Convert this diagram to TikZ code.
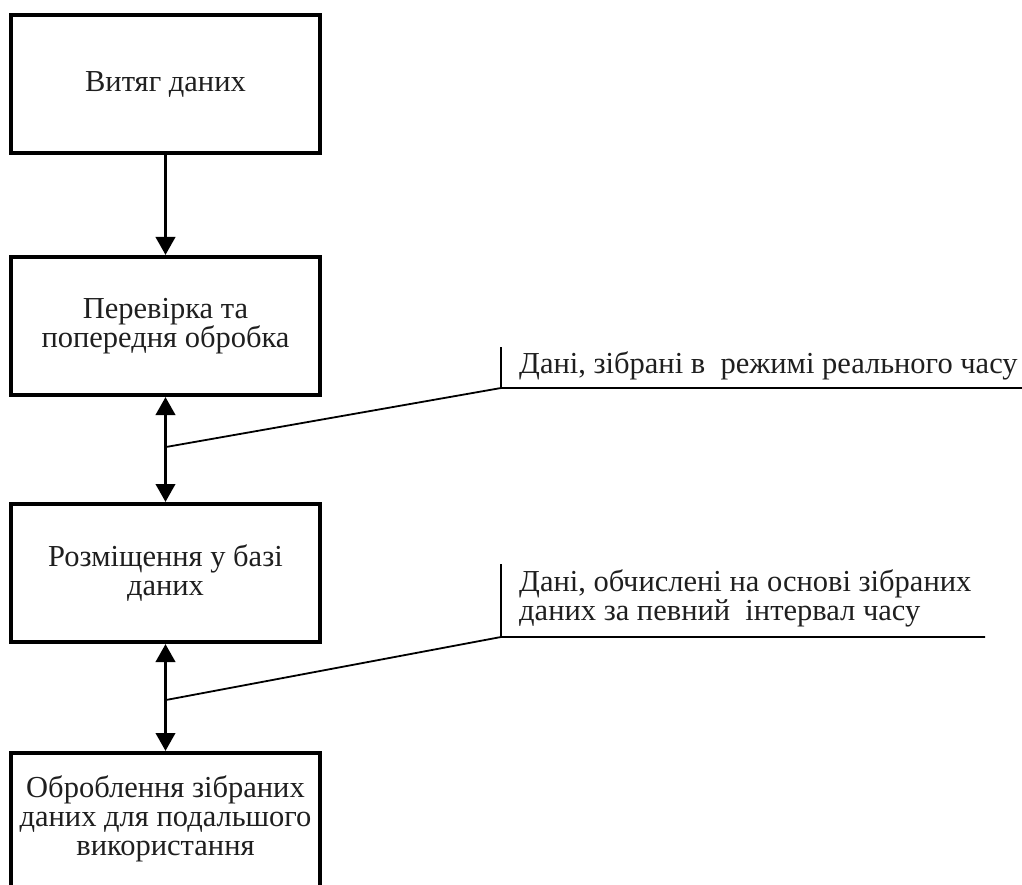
\documentclass[tikz,border=0pt]{standalone}
\usepackage{fontspec}
\setmainfont{Liberation Serif}
\usetikzlibrary{arrows.meta}

\tikzset{
  textsize/.style={font=\fontsize{30.5pt}{29pt}\selectfont, text=black!88},
  stage/.style={draw=black, line width=4pt, minimum width=309pt, minimum height=138pt,
    align=center, inner sep=0pt, textsize},
  flow/.style={line width=3.8pt, -{Triangle[width=19pt,length=18pt]}},
  twoway/.style={line width=3.8pt, {Triangle[width=19pt,length=18pt]}-{Triangle[width=19pt,length=18pt]}},
  leader/.style={line width=1.8pt},
  note/.style={anchor=south west, align=left, inner sep=0pt, text depth=0pt, textsize}
}

\begin{document}
\begin{tikzpicture}[x=1pt, y=-1pt]
  \useasboundingbox (0,0) rectangle (1022,885);

  % process stages
  \node[stage] (extract) at (165.5,84)  {Витяг даних};
  \node[stage] (check)   at (165.5,326) {Перевірка та\\попередня обробка};
  \node[stage] (store)   at (165.5,573) {Розміщення у базі\\даних};
  \node[stage, text depth=12pt] (process) at (165.5,822)
    {Оброблення зібраних\\даних для подальшого\\використання};

  % connectors between stages
  \draw[flow]   (extract.south) -- (check.north);
  \draw[twoway] (check.south)   -- (store.north);
  \draw[twoway] (store.south)   -- (process.north);

  % branch points on the two-way connectors
  \coordinate (j1) at (166,447);
  \coordinate (j2) at (166,700);

  % first annotation
  \coordinate (t1) at (501,347);
  \coordinate (k1) at (501,388);
  \coordinate (e1) at (1022,388);
  \draw[leader] (j1) -- (k1) -- (e1);
  \draw[leader] (t1) -- (k1);
  \node[note] (n1) at (519,374) {Дані, зібрані в\ \ режимі реального часу};

  % second annotation
  \coordinate (t2) at (501,564);
  \coordinate (k2) at (501,637);
  \coordinate (e2) at (985,637);
  \draw[leader] (j2) -- (k2) -- (e2);
  \draw[leader] (t2) -- (k2);
  \node[note] (n2) at (519,621) {Дані, обчислені на основі зібраних\\даних за певний\ \ інтервал часу};
\end{tikzpicture}
\end{document}
